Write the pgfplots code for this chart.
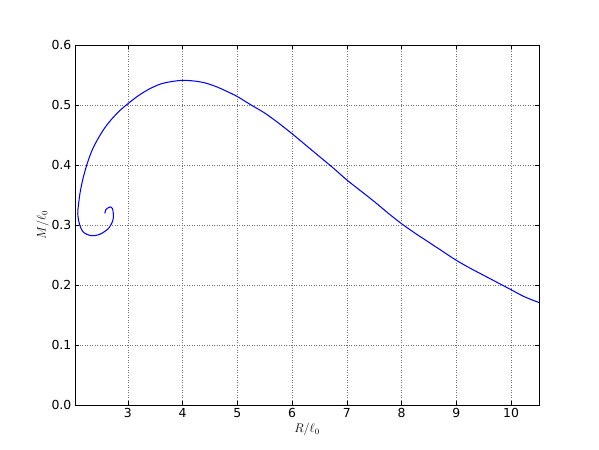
\documentclass[border=0pt]{standalone}
\usepackage{pgfplots}
\pgfplotsset{compat=1.18}
\usepackage{fontspec}
\setmainfont{DejaVu Sans}

\begin{document}
\begin{tikzpicture}
\begin{axis}[
    name=ax,
    scale only axis,
    width=447.8pt, height=347.4pt,
    xmin=2.035, xmax=10.51,
    ymin=0, ymax=0.6,
    xtick={3,4,5,6,7,8,9,10},
    ytick={0,0.1,0.2,0.3,0.4,0.5,0.6},
    yticklabel style={/pgf/number format/.cd,fixed,fixed zerofill,precision=1},
    /pgf/number format/assume math mode=true,
    ticklabel style={font=\fontsize{12}{14}\selectfont},
    xlabel={$R/\ell_0$},
    ylabel={$M/\ell_0$},
    label style={font=\fontsize{12}{14}\selectfont},
    xlabel style={yshift=2pt},
    ylabel style={yshift=-4pt},
    grid=major,
    major grid style={black!55, dotted, line width=0.6pt},
    axis line style={black, line width=0.8pt},
    major tick length=4pt,
    tick style={black, line width=0.6pt},
    tick align=inside,
]
\addplot[blue, line width=1pt, smooth, tension=0.5] coordinates {
    (2.58,0.319) (2.60,0.3257) (2.675,0.330) (2.72,0.327) (2.735,0.3175)
    (2.725,0.307) (2.644,0.294) (2.49,0.2845) (2.34,0.282) (2.187,0.288)
    (2.114,0.302) (2.085,0.319) (2.10,0.335) (2.13,0.355) (2.18,0.377)
    (2.25,0.400) (2.34,0.423) (2.45,0.443) (2.58,0.462) (2.72,0.478)
    (2.87,0.492) (3.0,0.502) (3.2,0.516) (3.4,0.527) (3.6,0.535)
    (3.8,0.539) (4.0,0.541) (4.2,0.540) (4.4,0.537) (4.6,0.531)
    (4.8,0.523) (5.0,0.514) (5.25,0.500) (5.5,0.4865) (5.75,0.470)
    (6.0,0.452) (6.25,0.433) (6.5,0.414) (6.75,0.395) (7.0,0.375)
    (7.25,0.357) (7.5,0.339) (7.75,0.320) (8.0,0.302) (8.25,0.286)
    (8.5,0.271) (8.75,0.256) (9.0,0.241) (9.25,0.228) (9.5,0.216)
    (9.75,0.204) (10.0,0.192) (10.25,0.180) (10.53,0.170)
};
\end{axis}
\pgfresetboundingbox
\path ([xshift=-72.4pt,yshift=-43.4pt]ax.south west) rectangle ([xshift=57.9pt,yshift=43.4pt]ax.north east);
\end{tikzpicture}
\end{document}
